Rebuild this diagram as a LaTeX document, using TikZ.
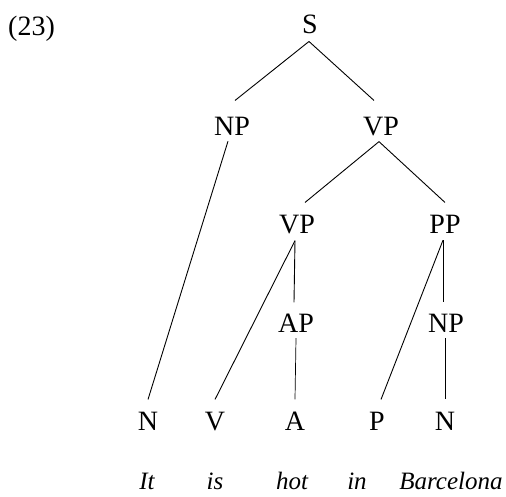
\documentclass[tikz,border=0pt]{standalone}
\usepackage{fontspec}
\setmainfont{Liberation Serif}
\begin{document}
\begin{tikzpicture}[x=1pt,y=-1pt,
  cat/.style={inner sep=0pt,anchor=base,font=\fontsize{28}{32}\selectfont},
  word/.style={inner sep=0pt,anchor=base,font=\fontsize{25}{30}\selectfont\itshape},
  branch/.style={draw=black,line width=0.9pt}]
\useasboundingbox[fill=white] (0,0) rectangle (506,496);
\node[cat,anchor=base west] (ex) at (8,35) {(23)};
\node[cat] (S) at (310,33) {S};
\node[cat] (NPa) at (232,135) {NP};
\node[cat] (VPa) at (381,135) {VP};
\node[cat] (VPb) at (297,233) {VP};
\node[cat] (PP) at (445,233) {PP};
\node[cat] (AP) at (296,332) {AP};
\node[cat] (NPb) at (446,332) {NP};
\node[cat] (Na) at (148,430) {N};
\node[cat] (V) at (215,430) {V};
\node[cat] (A) at (295,430) {A};
\node[cat] (P) at (377,430) {P};
\node[cat] (Nb) at (445,430) {N};
\node[word] (w1) at (147,489) {It};
\node[word] (w2) at (215,489) {is};
\node[word] (w3) at (292,489) {hot};
\node[word] (w4) at (357,489) {in};
\node[word] (w5) at (451,489) {Barcelona};
\draw[branch] ([yshift=-8pt,xshift=-1pt]S.south) -- ([yshift=16pt,xshift=3pt]NPa.north);
\draw[branch] ([yshift=-8pt,xshift=-1pt]S.south) -- ([yshift=16pt,xshift=-7pt]VPa.north);
\draw[branch] ([yshift=-6pt,xshift=-4pt]NPa.south) -- ([yshift=12pt]Na.north);
\draw[branch] ([yshift=-6pt,xshift=-2pt]VPa.south) -- ([yshift=12pt,xshift=8pt]VPb.north);
\draw[branch] ([yshift=-6pt,xshift=-2pt]VPa.south) -- ([yshift=12pt]PP.north);
\draw[branch] ([yshift=-7pt,xshift=-2pt]VPb.south) -- ([yshift=12pt]V.north);
\draw[branch] ([yshift=-7pt,xshift=-2pt]VPb.south) -- ([yshift=11pt,xshift=-2pt]AP.north);
\draw[branch] ([yshift=-7pt,xshift=-2pt]PP.south) -- ([yshift=12pt,xshift=4pt]P.north);
\draw[branch] ([yshift=-7pt,xshift=-2pt]PP.south) -- ([yshift=11pt,xshift=-3pt]NPb.north);
\draw[branch,line width=0.7pt] ([yshift=-6pt]AP.south) -- ([yshift=12pt]A.north);
\draw[branch,line width=0.7pt] ([yshift=-6pt,xshift=-1pt]NPb.south) -- ([yshift=12pt]Nb.north);
\end{tikzpicture}
\end{document}
